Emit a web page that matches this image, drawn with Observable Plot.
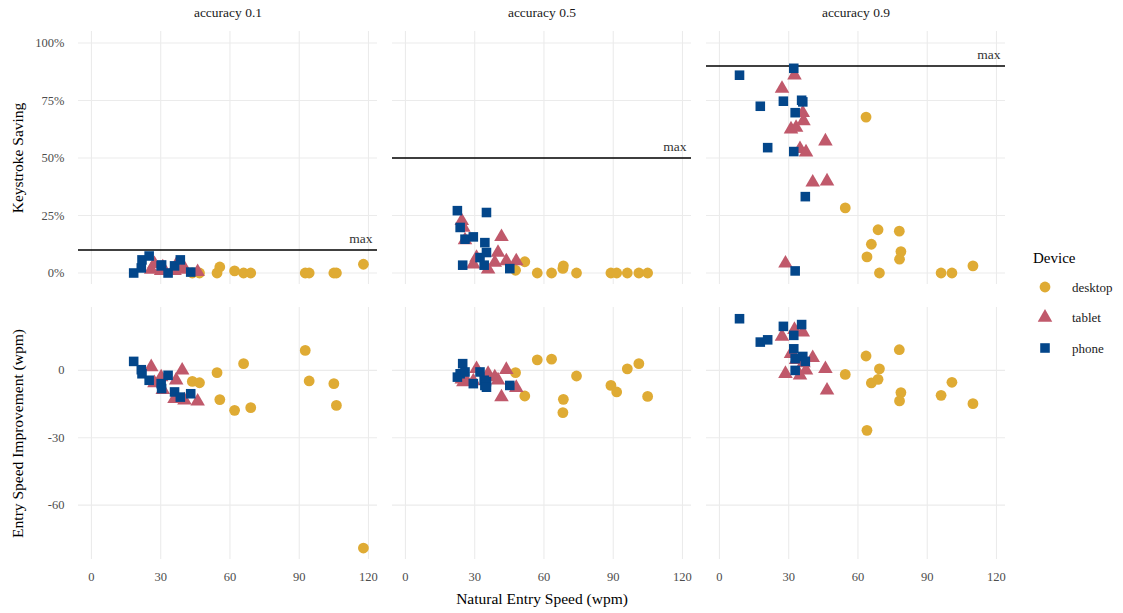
<!DOCTYPE html>
<html><head><meta charset="utf-8">
<script src="https://cdn.jsdelivr.net/npm/d3@7"></script>
<script src="https://cdn.jsdelivr.net/npm/@observablehq/plot@0.6"></script>
<style>
body{margin:0;background:#fff;font-family:"Liberation Serif",serif;}
#wrap{position:relative;width:1123px;height:613px;overflow:hidden;}
#top,#bottom,#legend{position:absolute;left:0;}
#top{top:0}
#bottom{top:295px}
#legend{left:1025px;top:240px}
svg text{font-family:"Liberation Serif",serif;}
g[aria-label="y-axis tick label"] text, g[aria-label="x-axis tick label"] text{font-size:12.5px;}
g[aria-label="y-axis label"] text, g[aria-label="x-axis label"] text{fill:#000;font-size:15.5px;}
g[aria-label="fx-axis tick label"] text{fill:#1a1a1a;font-size:13.5px;}
</style></head><body><div id="wrap"><div id="top"></div><div id="bottom"></div><div id="legend"></div></div>
<script>
// ---- categories / ticks ----
const accuracyLevels = [0.1, 0.5, 0.9];
const facetLabels = accuracyLevels.map(a => "accuracy " + a);
const devices = ["desktop", "tablet", "phone"];
const deviceColors = ["#DFAB34", "#C0596B", "#03468A"];
const deviceSymbols = ["circle", "triangle", "square"];
const xTicks = [0, 30, 60, 90, 120];
const savingTicks = [0, 0.25, 0.5, 0.75, 1];
const improvementTicks = [-60, -30, 0];

// ---- accuracy 0.1 ----
const a1DesktopNatural = [43.7, 46.8, 54.4, 55.6, 62.0, 65.9, 69.0, 92.6, 94.3, 105.0, 106.1, 117.8];
const a1DesktopSaving = [0, 0, 0, 2.6, 0.9, 0, 0, 0, 0, 0, 0, 3.8];
const a1DesktopImprovement = [-4.9, -5.5, -1.0, -13.0, -17.8, 3.0, -16.6, 8.9, -4.7, -5.9, -15.6, -79.1];
const a1TabletNatural = [25.9, 27.3, 30.2, 30.9, 36.0, 36.7, 39.3, 40.3, 46.0];
const a1TabletSaving = [1.5, 4.0, 1.0, 2.5, 1.0, 3.5, 1.5, 2.0, 0.5];
const a1TabletImprovement = [1.5, -5.6, -3.0, -8.6, -12.6, -4.4, 0.0, -13.3, -13.8];
const a1PhoneNatural = [18.3, 21.6, 21.9, 25.0, 30.2, 30.4, 33.2, 36.0, 38.5, 43.0];
const a1PhoneSaving = [0, 2.2, 5.7, 7.4, 3.1, 3.5, 0, 3.1, 5.7, 0.4];
const a1PhoneImprovement = [4.0, 0.3, -1.5, -4.4, -5.9, -8.1, -2.2, -9.6, -11.9, -10.4];

// ---- accuracy 0.5 ----
const a5DesktopNatural = [47.7, 51.7, 57.1, 63.3, 68.2, 68.4, 74.1, 89.0, 91.5, 96.1, 101.1, 104.9];
const a5DesktopSaving = [1.2, 4.9, 0, 0, 2.0, 3.1, 0, 0, 0, 0, 0, 0];
const a5DesktopImprovement = [-1.0, -11.4, 4.7, 5.0, -18.8, -12.9, -2.5, -6.7, -9.6, 0.7, 3.0, -11.6];
const a5TabletNatural = [24.4, 25.1, 25.8, 29.4, 30.8, 35.8, 38.7, 40.1, 41.6, 43.7, 48.0];
const a5TabletSaving = [22.7, 19.8, 14.3, 3.8, 6.7, 1.6, 4.5, 8.9, 15.7, 5.2, 5.2];
const a5TabletImprovement = [-4.0, -5.2, -3.5, -4.8, 0.7, -1.5, -3.0, -4.4, -11.9, 0.3, -7.7];
const a5PhoneNatural = [22.5, 23.7, 24.8, 25.8, 29.4, 32.3, 34.1, 34.4, 35.1, 35.1, 45.2];
const a5PhoneSaving = [27.1, 19.8, 3.4, 14.7, 15.7, 6.7, 3.4, 13.2, 26.3, 8.9, 1.9];
const a5PhoneImprovement = [-3.0, -1.5, 3.0, -0.7, -5.9, -0.7, -4.4, -6.7, -5.0, -7.5, -6.7];

// ---- accuracy 0.9 ----
const a9DesktopNatural = [54.5, 63.5, 63.9, 65.8, 68.7, 69.3, 77.9, 78.6, 78.0, 96.0, 100.7, 109.8];
const a9DesktopSaving = [28.3, 67.8, 7.0, 12.5, 18.8, 0, 18.2, 9.3, 6.0, 0, 0, 3.1];
const a9DesktopImprovement = [-1.8, 6.4, -26.7, -5.6, -4.0, 0.7, 9.2, -9.9, -13.6, -11.1, -5.3, -14.8];
const a9TabletNatural = [27.1, 28.6, 31.0, 32.5, 33.2, 34.9, 36.1, 36.4, 37.5, 40.4, 45.9, 46.6];
const a9TabletSaving = [80.2, 4.2, 62.5, 86.0, 63.2, 54.0, 69.6, 66.1, 52.5, 39.4, 57.3, 39.9];
const a9TabletImprovement = [15.1, -1.5, 7.4, 18.1, 4.7, -2.2, 17.0, 3.3, 0.0, 5.6, 0.7, -8.9];
const a9PhoneNatural = [8.7, 17.7, 20.9, 27.7, 32.2, 32.2, 32.8, 32.8, 35.6, 36.1, 37.2];
const a9PhoneSaving = [86.0, 72.5, 54.5, 74.7, 89.0, 52.8, 69.7, 0.9, 75.1, 74.4, 33.2];
const a9PhoneImprovement = [23.0, 12.6, 13.6, 19.6, 15.6, 9.6, 5.2, 0.0, 20.4, 6.2, 4.0];

// ---- build table ----
const groups = [
  [0, "desktop", a1DesktopNatural, a1DesktopSaving, a1DesktopImprovement],
  [0, "tablet", a1TabletNatural, a1TabletSaving, a1TabletImprovement],
  [0, "phone", a1PhoneNatural, a1PhoneSaving, a1PhoneImprovement],
  [1, "desktop", a5DesktopNatural, a5DesktopSaving, a5DesktopImprovement],
  [1, "tablet", a5TabletNatural, a5TabletSaving, a5TabletImprovement],
  [1, "phone", a5PhoneNatural, a5PhoneSaving, a5PhoneImprovement],
  [2, "desktop", a9DesktopNatural, a9DesktopSaving, a9DesktopImprovement],
  [2, "tablet", a9TabletNatural, a9TabletSaving, a9TabletImprovement],
  [2, "phone", a9PhoneNatural, a9PhoneSaving, a9PhoneImprovement]
];
const data = [];
for (const dev of devices) {
  for (const [ai, d, nat, sav, imp] of groups) {
    if (d !== dev) continue;
    nat.forEach((v, i) => data.push({acc: facetLabels[ai], device: d, natural: v, saving: sav[i] / 100, improvement: imp[i]}));
  }
}
const maxData = accuracyLevels.map((a, i) => ({acc: facetLabels[i], max: a}));

const gridStyle = {stroke: "#ebebeb", strokeOpacity: 1, strokeWidth: 1.1};
const common = {
  width: 1123, marginLeft: 77, marginRight: 116,
  style: {fontFamily: "'Liberation Serif', serif", fontSize: "12px", color: "#4d4d4d", background: "white"},
  symbol: {domain: devices, range: deviceSymbols},
  color: {domain: devices, range: deviceColors}
};
const fxScale = {domain: facetLabels, paddingInner: 0.0476, paddingOuter: 0, label: null};
const xScale = {domain: [-5.6, 123.9]};

const topPlot = Plot.plot({
  ...common,
  height: 295, marginTop: 31, marginBottom: 11,
  fx: {...fxScale},
  x: {...xScale},
  y: {domain: [-0.05, 1.05], label: "Keystroke Saving"},
  marks: [
    Plot.gridX(xTicks, gridStyle),
    Plot.gridY(savingTicks, gridStyle),
    Plot.axisFx({anchor: "top", tickSize: 0, tickPadding: 15, label: null}),
    Plot.axisX({ticks: [], tickSize: 0, label: null}),
    Plot.axisY(savingTicks, {tickSize: 0, tickPadding: 14, tickFormat: d3.format(".0%"), label: "Keystroke Saving", labelAnchor: "center", labelArrow: "none", labelOffset: 67}),
    Plot.ruleY(maxData, {fx: "acc", y: "max", stroke: "#000", strokeWidth: 1.4}),
    Plot.text(maxData, {fx: "acc", y: "max", text: () => "max", frameAnchor: "right", textAnchor: "end", dx: -5, dy: -11, fill: "#333", fontSize: 13.5}),
    Plot.dot(data, {fx: "acc", x: "natural", y: "saving", symbol: "device", fill: "device", r: 5.4})
  ]
});
document.getElementById("top").appendChild(topPlot);

const bottomPlot = Plot.plot({
  ...common,
  height: 318, marginTop: 12, marginBottom: 54,
  fx: {...fxScale, axis: null},
  x: {...xScale, label: "Natural Entry Speed (wpm)"},
  y: {domain: [-84.2, 28], label: "Entry Speed Improvement (wpm)"},
  marks: [
    Plot.gridX(xTicks, gridStyle),
    Plot.gridY(improvementTicks, gridStyle),
    Plot.axisX(xTicks, {tickSize: 0, tickPadding: 13, label: "Natural Entry Speed (wpm)", labelAnchor: "center", labelArrow: "none", labelOffset: 44}),
    Plot.axisY(improvementTicks, {tickSize: 0, tickPadding: 14, tickFormat: d => String(d), label: "Entry Speed Improvement (wpm)", labelAnchor: "center", labelArrow: "none", labelOffset: 67}),
    Plot.dot(data, {fx: "acc", x: "natural", y: "improvement", symbol: "device", fill: "device", r: 5.4})
  ]
});
document.getElementById("bottom").appendChild(bottomPlot);

// ---- legend ----
const lg = d3.select("#legend").append("svg").attr("width", 98).attr("height", 125)
  .style("font-family", "'Liberation Serif', serif");
lg.append("text").attr("x", 8).attr("y", 23).attr("font-size", 15).attr("fill", "#000").text("Device");
const symbolTypes = {circle: d3.symbolCircle, triangle: d3.symbolTriangle, square: d3.symbolSquare};
devices.forEach((d, i) => {
  const cy = 47 + i * 30.5;
  lg.append("path")
    .attr("transform", `translate(20,${cy})`)
    .attr("d", d3.symbol(symbolTypes[deviceSymbols[i]], Math.PI * 5.4 * 5.4)())
    .attr("fill", deviceColors[i]);
  lg.append("text").attr("x", 47).attr("y", cy + 4.5).attr("font-size", 13).attr("fill", "#1a1a1a").text(d);
});
</script>
</body></html>
